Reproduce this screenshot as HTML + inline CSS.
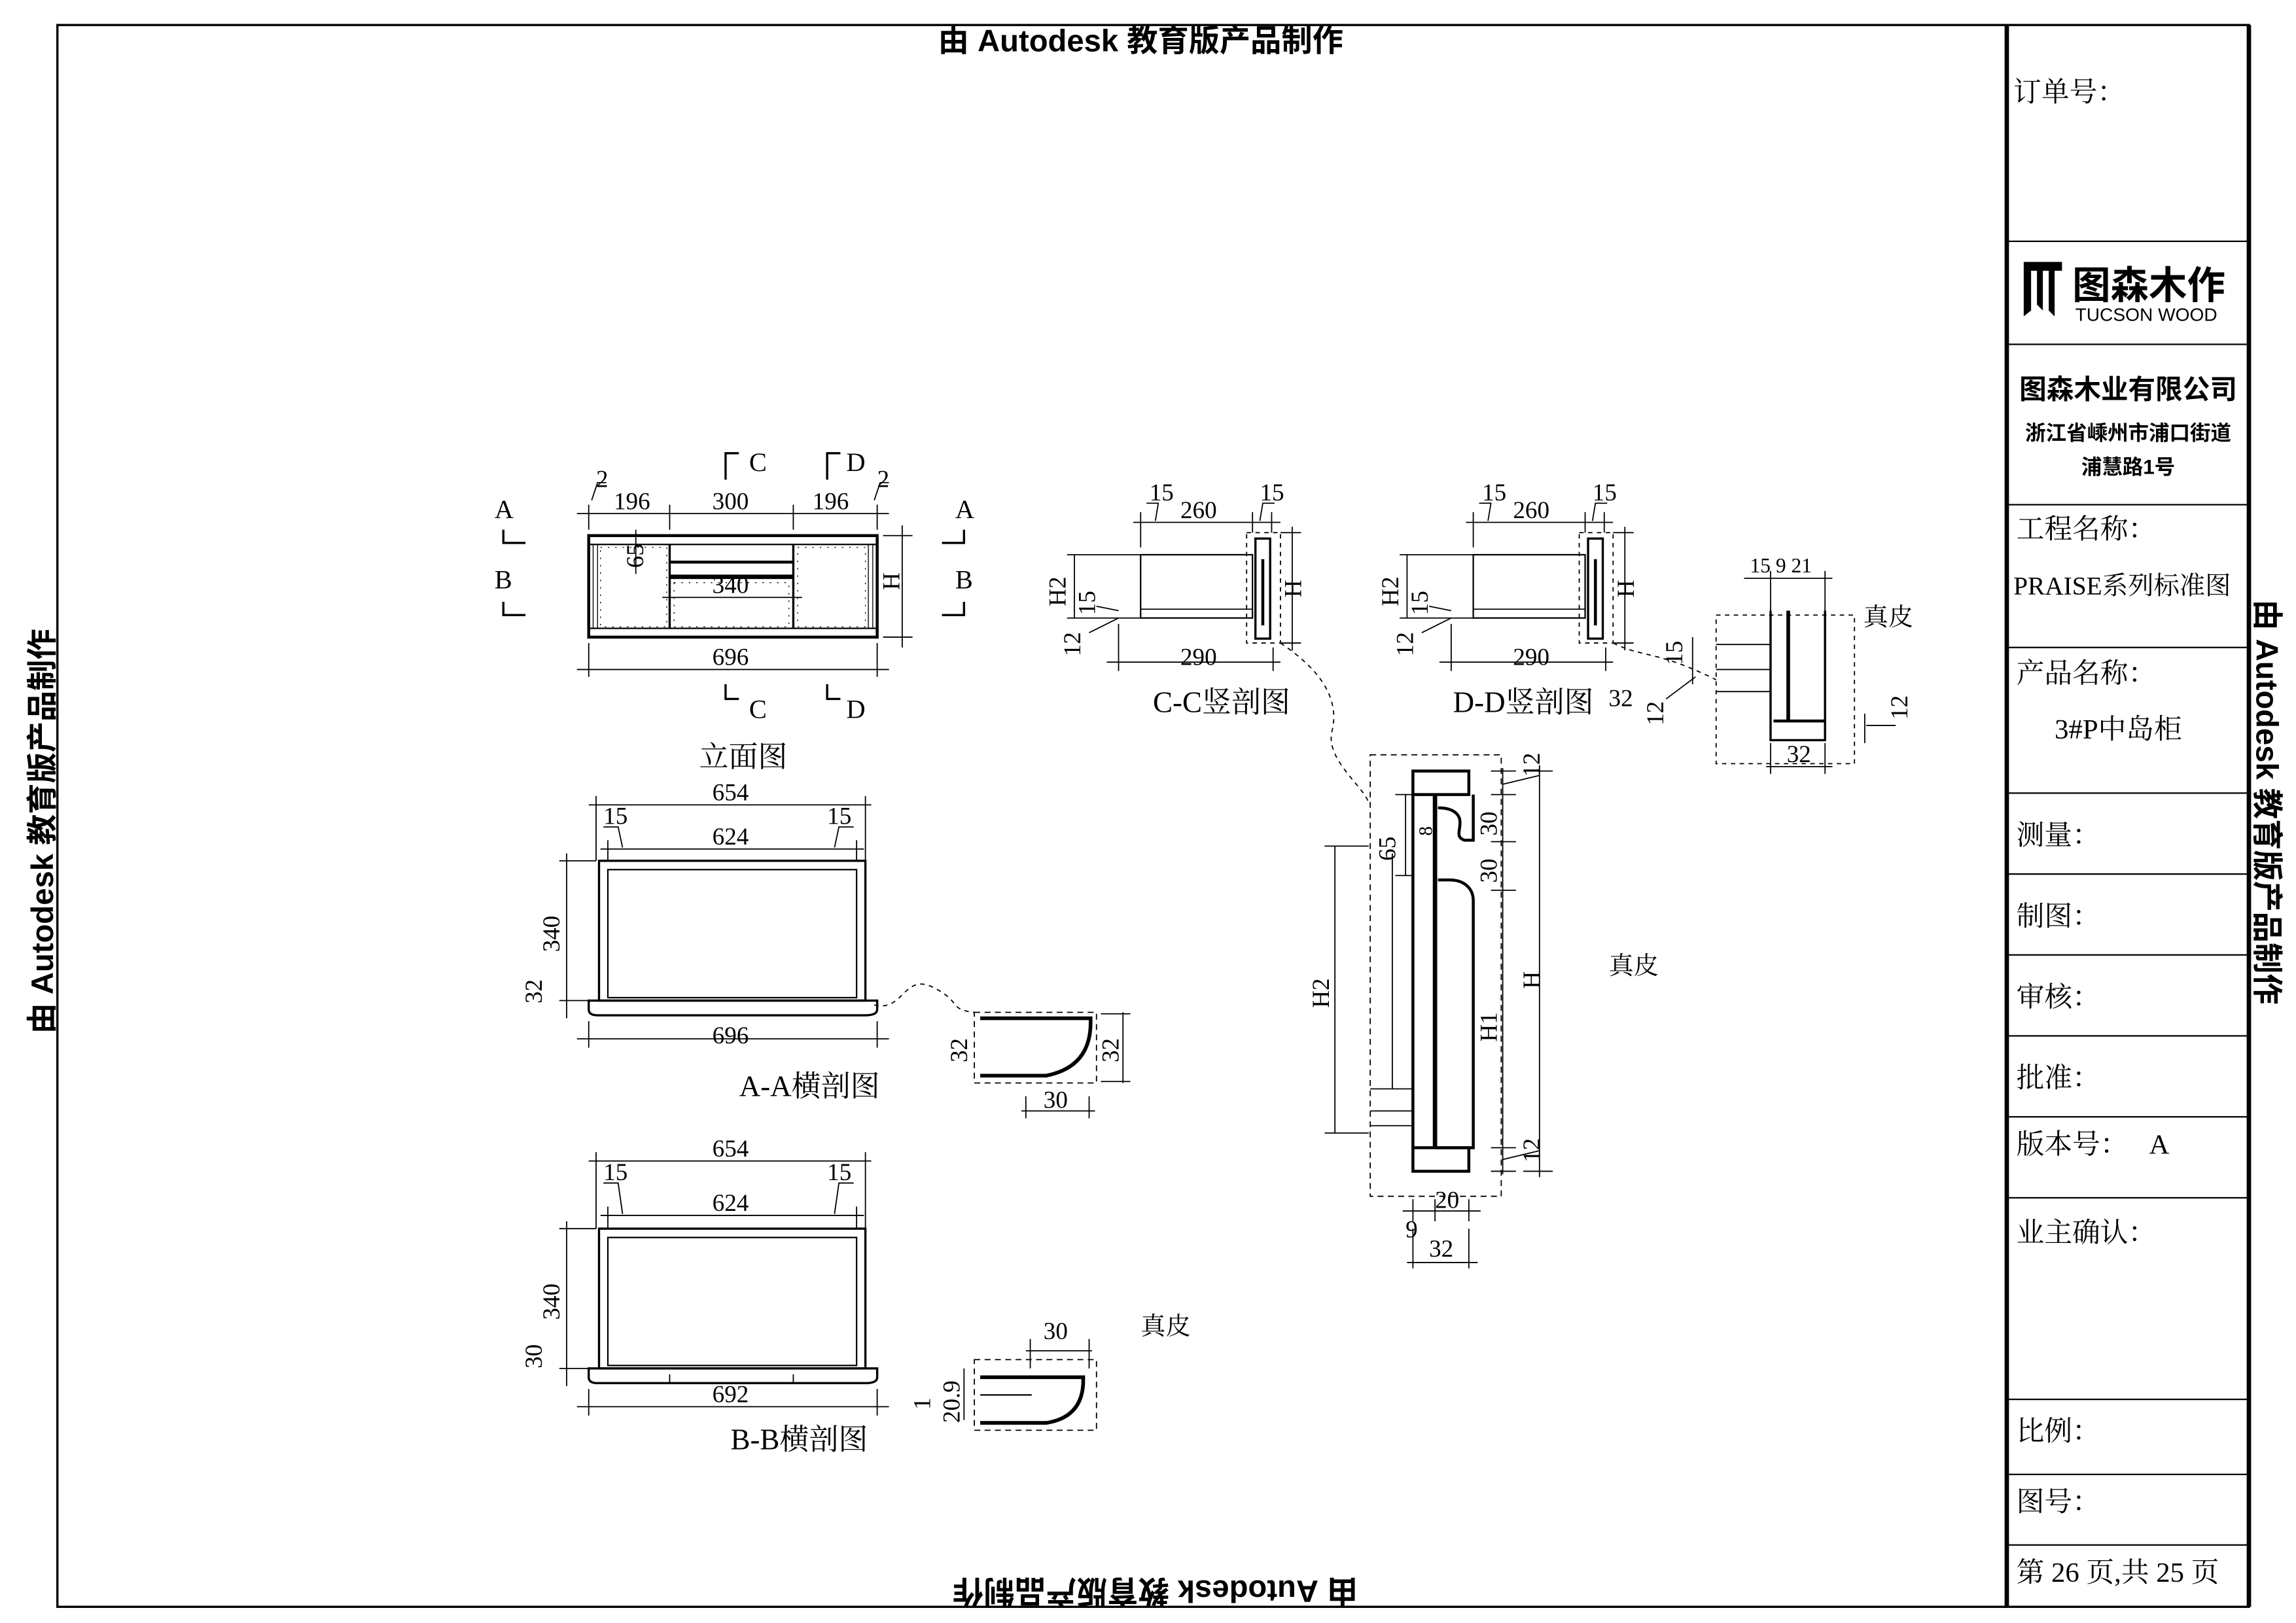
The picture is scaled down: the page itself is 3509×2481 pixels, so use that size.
<!DOCTYPE html>
<html><head><meta charset="utf-8"><style>
html,body{margin:0;padding:0;background:#fff;}
svg{display:block;}
text{font-family:"Liberation Serif","Noto Serif CJK SC",serif;fill:#000;}
.s{font-family:"Liberation Sans","Noto Sans CJK SC",sans-serif;}
.d{font-size:16.5px;}
.c{font-family:"Liberation Serif","Noto Serif CJK SC",serif;}
</style></head><body>
<svg width="3509" height="2481" viewBox="0 0 1560 1103" preserveAspectRatio="none" xmlns="http://www.w3.org/2000/svg">
<rect width="1560" height="1103" fill="#fff"/>
<g fill="none" stroke="#000">
<rect x="39" y="17" width="1489" height="1075" stroke-width="1.5"/>
<line x1="1363.5" y1="17" x2="1363.5" y2="1092" stroke-width="3"/>
<line x1="1528" y1="17" x2="1528" y2="1092" stroke-width="3"/>
<g stroke-width="1">
<line x1="1363" y1="164" x2="1528" y2="164"/><line x1="1363" y1="234" x2="1528" y2="234"/>
<line x1="1363" y1="343" x2="1528" y2="343"/><line x1="1363" y1="440" x2="1528" y2="440"/>
<line x1="1363" y1="539" x2="1528" y2="539"/><line x1="1363" y1="594" x2="1528" y2="594"/>
<line x1="1363" y1="649" x2="1528" y2="649"/><line x1="1363" y1="704" x2="1528" y2="704"/>
<line x1="1363" y1="759" x2="1528" y2="759"/><line x1="1363" y1="814" x2="1528" y2="814"/>
<line x1="1363" y1="951" x2="1528" y2="951"/><line x1="1363" y1="1002" x2="1528" y2="1002"/>
<line x1="1363" y1="1050" x2="1528" y2="1050"/>
</g>
</g>
<text class="s" x="775" y="35" font-size="21" font-weight="bold" text-anchor="middle">由 Autodesk 教育版产品制作</text>
<text class="s" x="0" y="0" font-size="21" font-weight="bold" text-anchor="middle" transform="translate(785,1074) rotate(180)">由 Autodesk 教育版产品制作</text>
<text class="s" x="0" y="0" font-size="21" font-weight="bold" text-anchor="middle" transform="translate(36,565) rotate(-90)">由 Autodesk 教育版产品制作</text>
<text class="s" x="0" y="0" font-size="21" font-weight="bold" text-anchor="middle" transform="translate(1533,545) rotate(90)">由 Autodesk 教育版产品制作</text>
<g class="c" font-size="19">
<text x="1368" y="69">订单号：</text>
<text x="1370" y="366">工程名称：</text>
<text x="1368" y="404" font-size="17.5">PRAISE系列标准图</text>
<text x="1370" y="464">产品名称：</text>
<text x="1396" y="502">3#P中岛柜</text>
<text x="1370" y="574">测量：</text>
<text x="1370" y="629">制图：</text>
<text x="1370" y="684">审核：</text>
<text x="1370" y="739">批准：</text>
<text x="1370" y="784">版本号：&#160;&#160;&#160;A</text>
<text x="1370" y="844">业主确认：</text>
<text x="1370" y="979">比例：</text>
<text x="1370" y="1027">图号：</text>
<text x="1370" y="1075">第 26 页,共 25 页</text>
</g>
<path d="M1375 178h26v6h-5v31l-4-4v-27h-4v27l-4-4v-23h-4v27l-5 4z" fill="#000"/>
<text class="s" x="1408" y="203" font-size="26" font-weight="bold">图森木作</text>
<text class="s" x="1410" y="218" font-size="12.5">TUCSON WOOD</text>
<text class="s" x="1446" y="271" font-size="18.5" font-weight="bold" text-anchor="middle">图森木业有限公司</text>
<text class="s" x="1446" y="299" font-size="14" font-weight="bold" text-anchor="middle">浙江省嵊州市浦口街道</text>
<text class="s" x="1446" y="322" font-size="14" font-weight="bold" text-anchor="middle">浦慧路1号</text>

<g fill="none" stroke="#000">
<rect x="400" y="364" width="196" height="69" stroke-width="2"/>
<line x1="400" y1="370" x2="596" y2="370" stroke-width="1"/>
<line x1="400" y1="427" x2="596" y2="427" stroke-width="1"/>
<line x1="455" y1="370" x2="455" y2="427" stroke-width="1.5"/>
<line x1="539" y1="370" x2="539" y2="427" stroke-width="1.5"/>
<line x1="455" y1="382" x2="539" y2="382" stroke-width="2"/>
<line x1="455" y1="392" x2="539" y2="392" stroke-width="3"/>
<line x1="403" y1="370" x2="403" y2="427" stroke-width=".6"/><line x1="406" y1="370" x2="406" y2="427" stroke-width=".6"/>
<line x1="593" y1="370" x2="593" y2="427" stroke-width=".6"/><line x1="590" y1="370" x2="590" y2="427" stroke-width=".6"/>
<rect x="408" y="372" width="45" height="54" stroke-width=".6" stroke-dasharray="1 4"/>
<rect x="542" y="372" width="46" height="54" stroke-width=".6" stroke-dasharray="1 4"/>
<rect x="458" y="396" width="78" height="30" stroke-width=".6" stroke-dasharray="1 4"/>
<g stroke-width=".8">
<line x1="392" y1="349" x2="604" y2="349"/>
<line x1="400" y1="343" x2="400" y2="360"/><line x1="455" y1="343" x2="455" y2="360"/><line x1="539" y1="343" x2="539" y2="360"/><line x1="596" y1="343" x2="596" y2="360"/>
<line x1="392" y1="455" x2="604" y2="455"/><line x1="400" y1="437" x2="400" y2="460"/><line x1="596" y1="437" x2="596" y2="460"/>
<line x1="613" y1="357" x2="613" y2="440"/><line x1="600" y1="364" x2="620" y2="364"/><line x1="600" y1="433" x2="620" y2="433"/>
<line x1="450" y1="406" x2="545" y2="406"/><line x1="455" y1="398" x2="455" y2="414"/><line x1="539" y1="398" x2="539" y2="414"/>
<line x1="432" y1="360" x2="432" y2="390"/>
<path d="M402 340l4-12h6M594 340l4-12h6"/>
</g>
<g stroke-width="1.5">
<path d="M342 360v9h15M342 409v9h15M655 360v9h-15M655 409v9h-15"/>
<path d="M493 326v-18h9M562 326v-18h9M493 465v10h9M562 465v10h9"/>
</g>
</g>
<g class="d">
<text x="417" y="346">196</text><text x="484" y="346">300</text><text x="552" y="346">196</text>
<text x="405" y="331">2</text><text x="596" y="331">2</text>
<text x="484" y="452">696</text><text x="484" y="403">340</text>
<text x="0" y="0" transform="translate(437,386) rotate(-90)">65</text>
<text x="0" y="0" transform="translate(611,401) rotate(-90)">H</text>
<text x="336" y="352" font-size="18">A</text><text x="336" y="400" font-size="18">B</text>
<text x="649" y="352" font-size="18">A</text><text x="649" y="400" font-size="18">B</text>
<text x="509" y="320" font-size="18">C</text><text x="575" y="320" font-size="18">D</text>
<text x="509" y="488" font-size="18">C</text><text x="575" y="488" font-size="18">D</text>
</g>
<text x="505" y="521" font-size="20" text-anchor="middle">立面图</text>

<g fill="none" stroke="#000">
<rect x="407" y="585" width="181" height="95" stroke-width="1.5"/>
<rect x="413" y="591" width="169" height="87" stroke-width="1"/>
<path d="M400 680h196v6q0 4-8 4h-182q-6 0-6-4z" stroke-width="1.5"/>
<g stroke-width=".8">
<line x1="400" y1="547" x2="592" y2="547"/><line x1="405" y1="541" x2="405" y2="585"/><line x1="588" y1="541" x2="588" y2="585"/>
<line x1="408" y1="577" x2="587" y2="577"/><line x1="413" y1="571" x2="413" y2="585"/><line x1="582" y1="571" x2="582" y2="585"/>
<line x1="385" y1="580" x2="385" y2="692"/><line x1="380" y1="585" x2="405" y2="585"/><line x1="380" y1="680" x2="400" y2="680"/>
<line x1="392" y1="706" x2="604" y2="706"/><line x1="400" y1="694" x2="400" y2="712"/><line x1="596" y1="694" x2="596" y2="712"/>
<path d="M410 562h10l3 14M580 562h-10l-3 14"/>
<path d="M594 683c20 5 20-22 40-12s10 15 28 17" stroke-dasharray="3 3"/>
<rect x="662" y="688" width="83" height="48" stroke-dasharray="4 3"/>
<line x1="763" y1="688" x2="763" y2="736"/><line x1="748" y1="689" x2="768" y2="689"/><line x1="748" y1="735" x2="768" y2="735"/>
<line x1="694" y1="755" x2="744" y2="755"/><line x1="697" y1="745" x2="697" y2="760"/><line x1="740" y1="745" x2="740" y2="760"/>
</g>
<path d="M666 692h75v3q0 30-30 36h-45" stroke-width="2.5"/>
</g>
<g class="d">
<text x="484" y="544">654</text><text x="410" y="560">15</text><text x="562" y="560">15</text>
<text x="484" y="574">624</text><text x="484" y="709">696</text>
<text x="0" y="0" transform="translate(380,647) rotate(-90)">340</text>
<text x="0" y="0" transform="translate(368,682) rotate(-90)">32</text>
<text x="0" y="0" transform="translate(657,722) rotate(-90)">32</text>
<text x="0" y="0" transform="translate(760,722) rotate(-90)">32</text>
<text x="709" y="753">30</text>
</g>
<text x="550" y="745" font-size="20" text-anchor="middle">A-A横剖图</text>

<g fill="none" stroke="#000">
<rect x="407" y="835" width="181" height="95" stroke-width="1.5"/>
<rect x="413" y="841" width="169" height="87" stroke-width="1"/>
<path d="M400 930h196v6q0 4-8 4h-182q-6 0-6-4z" stroke-width="1.5"/>
<line x1="455" y1="934" x2="455" y2="940" stroke-width=".8"/><line x1="539" y1="934" x2="539" y2="940" stroke-width=".8"/>
<g stroke-width=".8">
<line x1="400" y1="789" x2="592" y2="789"/><line x1="405" y1="783" x2="405" y2="835"/><line x1="588" y1="783" x2="588" y2="835"/>
<line x1="408" y1="826" x2="587" y2="826"/><line x1="413" y1="820" x2="413" y2="835"/><line x1="582" y1="820" x2="582" y2="835"/>
<line x1="385" y1="830" x2="385" y2="942"/><line x1="380" y1="835" x2="405" y2="835"/><line x1="380" y1="930" x2="400" y2="930"/>
<line x1="392" y1="956" x2="604" y2="956"/><line x1="400" y1="944" x2="400" y2="962"/><line x1="596" y1="944" x2="596" y2="962"/>
<path d="M410 804h10l3 21M580 804h-10l-3 21"/>
<rect x="662" y="924" width="83" height="48" stroke-dasharray="4 3"/>
<line x1="697" y1="918" x2="742" y2="918"/><line x1="700" y1="910" x2="700" y2="930"/><line x1="740" y1="910" x2="740" y2="930"/>
<line x1="655" y1="930" x2="655" y2="965"/>
</g>
<path d="M666 936h70v2q0 25-25 29h-45" stroke-width="2.5"/>
<path d="M666 948h35" stroke-width="1"/>
</g>
<g class="d">
<text x="484" y="786">654</text><text x="410" y="802">15</text><text x="562" y="802">15</text>
<text x="484" y="823">624</text><text x="484" y="953">692</text>
<text x="0" y="0" transform="translate(380,897) rotate(-90)">340</text>
<text x="0" y="0" transform="translate(368,930) rotate(-90)">30</text>
<text x="0" y="0" transform="translate(652,967) rotate(-90)">20.9</text>
<text x="0" y="0" transform="translate(632,958) rotate(-90)">1</text>
<text x="709" y="910">30</text>
</g>
<text x="543" y="985" font-size="20" text-anchor="middle">B-B横剖图</text>
<text x="775" y="907" font-size="17">真皮</text>

<g id="cc" fill="none" stroke="#000">
<rect x="775" y="377" width="76" height="43" stroke-width="1"/>
<line x1="775" y1="414" x2="851" y2="414" stroke-width=".8"/>
<rect x="853" y="366" width="10" height="68" stroke-width="1.5"/>
<line x1="858" y1="380" x2="858" y2="425" stroke-width="2"/>
<rect x="847" y="362" width="23" height="75" stroke-width=".8" stroke-dasharray="3 3"/>
<g stroke-width=".8">
<line x1="770" y1="355" x2="870" y2="355"/><line x1="775" y1="348" x2="775" y2="372"/><line x1="851" y1="348" x2="851" y2="362"/><line x1="864" y1="348" x2="864" y2="362"/>
<line x1="878" y1="358" x2="878" y2="442"/><line x1="870" y1="362" x2="884" y2="362"/><line x1="870" y1="437" x2="884" y2="437"/>
<line x1="752" y1="450" x2="870" y2="450"/><line x1="760" y1="424" x2="760" y2="456"/><line x1="865" y1="440" x2="865" y2="456"/>
<line x1="730" y1="377" x2="730" y2="420"/><line x1="725" y1="377" x2="775" y2="377"/><line x1="725" y1="420" x2="775" y2="420"/>
<path d="M745 412l15 3M740 430l20-10"/>
<path d="M779 342h8l-2 12M866 342h-8l-2 12"/>
</g>
</g>
<use href="#cc" transform="translate(226,0)"/>
<g class="d">
<text x="781" y="340">15</text><text x="856" y="340">15</text><text x="802" y="352">260</text><text x="802" y="452">290</text>
<text x="0" y="0" transform="translate(884,406) rotate(-90)">H</text>
<text x="0" y="0" transform="translate(724,412) rotate(-90)">H2</text>
<text x="0" y="0" transform="translate(744,418) rotate(-90)">15</text>
<text x="0" y="0" transform="translate(734,446) rotate(-90)">12</text>
<text x="1007" y="340">15</text><text x="1082" y="340">15</text><text x="1028" y="352">260</text><text x="1028" y="452">290</text>
<text x="0" y="0" transform="translate(1110,406) rotate(-90)">H</text>
<text x="0" y="0" transform="translate(950,412) rotate(-90)">H2</text>
<text x="0" y="0" transform="translate(970,418) rotate(-90)">15</text>
<text x="0" y="0" transform="translate(960,446) rotate(-90)">12</text>
<text x="1093" y="480">32</text>
</g>
<text x="830" y="484" font-size="20" text-anchor="middle">C-C竖剖图</text>
<text x="1035" y="484" font-size="20" text-anchor="middle">D-D竖剖图</text>
<path d="M870 437c30 20 40 40 35 60s25 40 25 50" fill="none" stroke="#000" stroke-width=".8" stroke-dasharray="3 3"/>
<path d="M1096 437c20 10 30 5 70 25" fill="none" stroke="#000" stroke-width=".8" stroke-dasharray="3 3"/>

<g fill="none" stroke="#000">
<rect x="1166" y="418" width="94" height="101" stroke-width=".8" stroke-dasharray="3 3"/>
<path d="M1203 415v88h37v-88" stroke-width="1.5"/>
<line x1="1215" y1="415" x2="1215" y2="490" stroke-width="2.5"/>
<line x1="1205" y1="490" x2="1240" y2="490" stroke-width="2"/>
<line x1="1166" y1="438" x2="1203" y2="438" stroke-width=".8"/>
<line x1="1166" y1="455" x2="1203" y2="455" stroke-width=".8"/>
<line x1="1166" y1="470" x2="1203" y2="470" stroke-width=".8"/>
<g stroke-width=".8">
<line x1="1185" y1="393" x2="1245" y2="393"/><line x1="1203" y1="388" x2="1203" y2="415"/><line x1="1240" y1="388" x2="1240" y2="415"/>
<line x1="1200" y1="521" x2="1245" y2="521"/><line x1="1203" y1="505" x2="1203" y2="526"/><line x1="1240" y1="505" x2="1240" y2="526"/>
<line x1="1150" y1="433" x2="1150" y2="465"/><line x1="1267" y1="485" x2="1267" y2="505"/>
<path d="M1132 475l20-15M1268 493h20"/>
</g>
</g>
<g class="d">
<text x="1189" y="389" font-size="14">15 9 21</text>
<text x="1214" y="518">32</text>
<text x="0" y="0" transform="translate(1143,452) rotate(-90)">15</text>
<text x="0" y="0" transform="translate(1130,493) rotate(-90)">12</text>
<text x="0" y="0" transform="translate(1296,489) rotate(-90)">12</text>
</g>
<text x="1266" y="425" font-size="17">真皮</text>

<g fill="none" stroke="#000">
<rect x="931" y="513" width="89" height="300" stroke-width=".8" stroke-dasharray="4 3"/>
<rect x="960" y="524" width="38" height="16" stroke-width="2"/>
<rect x="960" y="780" width="38" height="16" stroke-width="2"/>
<line x1="960" y1="540" x2="960" y2="780" stroke-width="2"/>
<line x1="975" y1="540" x2="975" y2="780" stroke-width="3"/>
<path d="M977 549c10 0 15 4 15 10s-3 10 3 12h6v-31" stroke-width="2"/>
<path d="M977 598h8c10 0 16 6 16 14v168h-26" stroke-width="2"/>
<g stroke-width=".8">
<line x1="931" y1="740" x2="960" y2="740"/><line x1="931" y1="755" x2="960" y2="755"/><line x1="931" y1="765" x2="960" y2="765"/>
<line x1="946" y1="580" x2="946" y2="740"/>
<line x1="907" y1="575" x2="907" y2="770"/><line x1="900" y1="575" x2="930" y2="575"/><line x1="900" y1="770" x2="930" y2="770"/>
<line x1="955" y1="540" x2="955" y2="595"/><line x1="948" y1="540" x2="960" y2="540"/><line x1="948" y1="595" x2="960" y2="595"/>
<line x1="1021" y1="522" x2="1021" y2="798"/>
<line x1="1013" y1="524" x2="1030" y2="524"/><line x1="1013" y1="540" x2="1030" y2="540"/><line x1="1013" y1="572" x2="1030" y2="572"/><line x1="1013" y1="605" x2="1030" y2="605"/><line x1="1013" y1="780" x2="1030" y2="780"/><line x1="1013" y1="796" x2="1030" y2="796"/>
<line x1="1046" y1="520" x2="1046" y2="800"/><line x1="1035" y1="524" x2="1055" y2="524"/><line x1="1035" y1="796" x2="1055" y2="796"/>
<path d="M1021 533l25-6M1021 788l25-6"/>
<line x1="953" y1="823" x2="1006" y2="823"/><line x1="960" y1="815" x2="960" y2="830"/><line x1="975" y1="815" x2="975" y2="830"/><line x1="998" y1="815" x2="998" y2="830"/>
<line x1="956" y1="858" x2="1004" y2="858"/><line x1="960" y1="835" x2="960" y2="862"/><line x1="998" y1="835" x2="998" y2="862"/>
</g>
</g>
<g class="d">
<text x="0" y="0" transform="translate(903,685) rotate(-90)">H2</text>
<text x="0" y="0" transform="translate(948,585) rotate(-90)">65</text>
<text x="0" y="0" transform="translate(973,568) rotate(-90)" font-size="13">8</text>
<text x="0" y="0" transform="translate(1017,568) rotate(-90)">30</text>
<text x="0" y="0" transform="translate(1017,600) rotate(-90)">30</text>
<text x="0" y="0" transform="translate(1017,708) rotate(-90)">H1</text>
<text x="0" y="0" transform="translate(1046,672) rotate(-90)">H</text>
<text x="0" y="0" transform="translate(1046,528) rotate(-90)">12</text>
<text x="0" y="0" transform="translate(1046,790) rotate(-90)">12</text>
<text x="975" y="821">20</text>
<text x="955" y="841">9</text>
<text x="971" y="854">32</text>
</g>
<text x="1093" y="662" font-size="17">真皮</text>
</svg>
</body></html>
